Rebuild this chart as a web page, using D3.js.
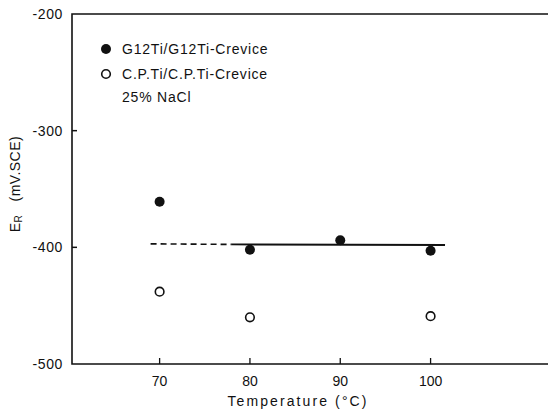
<!DOCTYPE html>
<html>
<head>
<meta charset="utf-8">
<script src="https://cdn.jsdelivr.net/npm/d3@7"></script>
<style>
  body { margin: 0; background: #fff; }
  svg text { font-family: "Liberation Sans", Arial, sans-serif; fill: #111; white-space: pre; }
</style>
</head>
<body>
<svg id="chart" width="548" height="412"></svg>
<script>
// data
const temps = [70, 80, 90, 100];
const g12Ti = [-361, -402, -394, -403];          // filled circles
const cpTemps = [70, 80, 100];
const cpTi = [-438, -460, -459];                  // open circles
const dashLine = [[69, -397], [78, -397.5]];
const solidLine = [[78, -397.5], [101.6, -398]];
const xTicks = [70, 80, 90, 100];
const yTicks = [-200, -300, -400, -500];
const legendItems = ["G12Ti/G12Ti-Crevice", "C.P.Ti/C.P.Ti-Crevice"];

const svg = d3.select("#chart");
const mLeft = 72, mTop = 14, mBottom = 364, mRight = 548;

const x = d3.scaleLinear().domain([60.3, 113]).range([mLeft, mRight]);
const y = d3.scaleLinear().domain([-500, -200]).range([mBottom, mTop]);

// frame: left, top and bottom lines
svg.append("path")
    .attr("d", `M${mRight},${mTop}H${mLeft}V${mBottom}H${mRight}`)
    .attr("fill", "none")
    .attr("stroke", "#111")
    .attr("stroke-width", 1.6);

// y axis
const yAxis = svg.append("g").attr("transform", `translate(${mLeft},0)`);
yAxis.selectAll("line").data(yTicks.slice(1, 3)).join("line")
    .attr("x1", 0).attr("x2", 5)
    .attr("y1", d => y(d)).attr("y2", d => y(d))
    .attr("stroke", "#111").attr("stroke-width", 1.5);
yAxis.selectAll("text").data(yTicks).join("text")
    .attr("x", -9).attr("y", d => y(d) + 5)
    .attr("text-anchor", "end")
    .style("font-size", "14px")
    .style("letter-spacing", "0.6px")
    .text(d => String(d));

// x axis
const xAxis = svg.append("g").attr("transform", `translate(0,${mBottom})`);
xAxis.selectAll("line").data(xTicks).join("line")
    .attr("x1", d => x(d)).attr("x2", d => x(d))
    .attr("y1", 0).attr("y2", -6)
    .attr("stroke", "#111").attr("stroke-width", 1.3);
xAxis.selectAll("text").data(xTicks).join("text")
    .attr("x", d => x(d)).attr("y", 22)
    .attr("text-anchor", "middle")
    .style("font-size", "14px")
    .text(d => d);

// axis titles
svg.append("text")
    .attr("x", 298).attr("y", 406)
    .attr("text-anchor", "middle")
    .style("font-size", "14px")
    .style("letter-spacing", "2.1px")
    .text("Temperature (°C)");

const yl = svg.append("text")
    .attr("transform", "translate(20,184) rotate(-90)")
    .attr("text-anchor", "middle")
    .style("font-size", "14px")
    .style("letter-spacing", "0.5px");
yl.append("tspan").text("E");
yl.append("tspan").style("font-size", "10px").attr("dy", 2).text("R");
yl.append("tspan").attr("dy", -2).text("   (mV.SCE)");

// fit line
const line = d3.line().x(d => x(d[0])).y(d => y(d[1]));
svg.append("path").attr("d", line(dashLine))
    .attr("fill", "none").attr("stroke", "#111")
    .attr("stroke-width", 1.6).attr("stroke-dasharray", "6,4");
svg.append("path").attr("d", line(solidLine))
    .attr("fill", "none").attr("stroke", "#111")
    .attr("stroke-width", 1.8);

// points
svg.append("g").selectAll("circle").data(temps).join("circle")
    .attr("cx", d => x(d)).attr("cy", (d, i) => y(g12Ti[i]))
    .attr("r", 5).attr("fill", "#111");
svg.append("g").selectAll("circle").data(cpTemps).join("circle")
    .attr("cx", d => x(d)).attr("cy", (d, i) => y(cpTi[i]))
    .attr("r", 4.3).attr("fill", "#fff")
    .attr("stroke", "#111").attr("stroke-width", 1.6);

// legend
const lg = svg.append("g");
lg.append("circle").attr("cx", 106).attr("cy", 49).attr("r", 5).attr("fill", "#111");
lg.append("circle").attr("cx", 106).attr("cy", 74).attr("r", 4.3)
    .attr("fill", "#fff").attr("stroke", "#111").attr("stroke-width", 1.6);
lg.selectAll("text.item").data(legendItems).join("text")
    .attr("class", "item")
    .attr("x", 122).attr("y", (d, i) => 54 + i * 25)
    .style("font-size", "14px")
    .style("letter-spacing", "0.8px")
    .text(d => d);
lg.append("text")
    .attr("x", 122).attr("y", 102)
    .style("font-size", "14px")
    .style("letter-spacing", "0.8px")
    .text("25% NaCl");
</script>
</body>
</html>
